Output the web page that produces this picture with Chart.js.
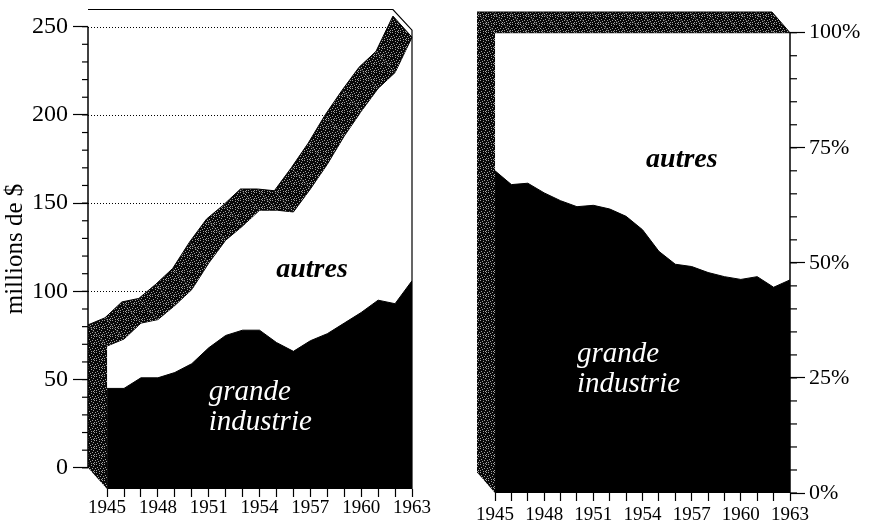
<!DOCTYPE html>
<html lang="fr">
<head>
<meta charset="utf-8">
<script src="https://cdn.jsdelivr.net/npm/chart.js@4.4.1/dist/chart.umd.min.js"></script>
<style>
  html, body { margin: 0; padding: 0; background: #fff; }
  #wrap { position: relative; width: 869px; height: 524px; }
  .panel { position: absolute; top: 0; height: 524px; }
  #left { left: 0; width: 440px; }
  #right { left: 440px; width: 429px; }
</style>
</head>
<body>
<div id="wrap">
  <div class="panel" id="left"><canvas id="chartMontant"></canvas></div>
  <div class="panel" id="right"><canvas id="chartPart"></canvas></div>
</div>
<script>
// donnees
const annees = [1945, 1946, 1947, 1948, 1949, 1950, 1951, 1952, 1953, 1954,
                1955, 1956, 1957, 1958, 1959, 1960, 1961, 1962, 1963];
const grandeIndustrie = [57, 57, 63, 63, 66, 71, 80, 87, 90, 90, 83, 78, 84, 88, 94, 100, 107, 105, 118];
const autres = [24, 28, 31, 33, 38, 42, 48, 54, 59, 68, 75, 79, 86, 96, 106, 114, 120, 131, 138];
const partGrande = [70, 67, 67.3, 65.2, 63.5, 62.2, 62.5, 61.7, 60.1, 57.2, 52.5, 49.7, 49.2, 47.9, 47, 46.4, 47, 44.7, 46.3];
const partAutres = [30, 33, 32.7, 34.8, 36.5, 37.8, 37.5, 38.3, 39.9, 42.8, 47.5, 50.3, 50.8, 52.1, 53, 53.6, 53, 55.3, 53.7];
const anneesEtiquetees = [1945, 1948, 1951, 1954, 1957, 1960, 1963];
const ticksMontant = [0, 50, 100, 150, 200, 250];
const ticksPart = [0, 25, 50, 75, 100];

const SERIF = "'Liberation Serif', 'Times New Roman', serif";

function points(values) {
    return annees.map((a, i) => ({ x: a, y: values[i] }));
}

// trame grise irreguliere
let motif = null;
function getMotif(ctx) {
    if (motif) return motif;
    const c = document.createElement('canvas');
    c.width = 8; c.height = 8;
    const g = c.getContext('2d');
    g.fillStyle = '#080808';
    g.fillRect(0, 0, 8, 8);
    g.fillStyle = '#a0a0a0';
    [[0, 0], [3, 1], [6, 0], [1, 3], [5, 2], [7, 4], [2, 5], [4, 4],
     [0, 6], [6, 6], [3, 7], [5, 7]].forEach(p => g.fillRect(p[0], p[1], 1, 1));
    motif = ctx.createPattern(c, 'repeat');
    return motif;
}

function poly(ctx, pts) {
    ctx.beginPath();
    ctx.moveTo(pts[0][0], pts[0][1]);
    for (let i = 1; i < pts.length; i++) ctx.lineTo(pts[i][0], pts[i][1]);
    ctx.closePath();
}

// effet de relief (bande tramee), axes et textes
const relief = {
    id: 'relief',
    beforeDatasetsDraw(chart, args, o) {
        if (!o.grille) return;
        const ctx = chart.ctx, ca = chart.chartArea;
        const xs = chart.scales.x, ax = chart.scales[o.axe];
        const dx = xs.getPixelForValue(xs.min) - xs.getPixelForValue(annees[0]);
        const xFin = xs.getPixelForValue(annees[annees.length - 1]) + dx;
        ctx.save();
        ctx.strokeStyle = '#000';
        ctx.lineWidth = 1;
        ctx.setLineDash([1, 2]);
        o.grille.forEach(v => {
            const y = Math.round(ax.getPixelForValue(v)) + 0.5;
            ctx.beginPath();
            ctx.moveTo(ca.left, y);
            ctx.lineTo(xFin, y);
            ctx.stroke();
        });
        ctx.restore();
    },
    afterDatasetsDraw(chart, args, o) {
        const ctx = chart.ctx, ca = chart.chartArea;
        const xs = chart.scales.x, ys = chart.scales.y;
        const pts = chart.getDatasetMeta(chart.data.datasets.length - 1).data.map(p => [p.x, p.y]);
        const dx = xs.getPixelForValue(xs.min) - xs.getPixelForValue(annees[0]);
        const dy = ys.getPixelForValue(o.profondeur) - ys.getPixelForValue(0);
        const y0 = ys.getPixelForValue(0);
        const n = pts.length;
        ctx.save();
        ctx.fillStyle = getMotif(ctx);
        for (let i = 0; i < n - 1; i++) {
            const a = pts[i], b = pts[i + 1];
            poly(ctx, [a, b, [b[0] + dx, b[1] + dy], [a[0] + dx, a[1] + dy]]);
            ctx.fill();
        }
        const p0 = pts[0];
        poly(ctx, [p0, [p0[0] + dx, p0[1] + dy], [p0[0] + dx, y0 + dy], [p0[0], y0]]);
        ctx.fill();

        ctx.strokeStyle = '#000';
        ctx.lineWidth = 1;
        ctx.beginPath();
        pts.forEach((p, i) => i ? ctx.lineTo(p[0] + dx, p[1] + dy) : ctx.moveTo(p[0] + dx, p[1] + dy));
        ctx.stroke();
        const pn = pts[n - 1];
        ctx.beginPath();
        ctx.moveTo(pn[0] + dx, pn[1] + dy);
        ctx.lineTo(pn[0], pn[1]);
        ctx.stroke();

        // cadre du fond
        if (o.cadre) {
            ctx.lineWidth = 1.2;
            ctx.beginPath();
            ctx.moveTo(ca.left, ca.top + 0.5);
            ctx.lineTo(pn[0] + dx, ca.top + 0.5);
            ctx.lineTo(pn[0], ca.top - dy);
            ctx.lineTo(pn[0], y0);
            ctx.stroke();
        }

        // axe vertical et petites graduations
        const ax = chart.scales[o.axe];
        const xAxe = o.droite ? ca.right : ca.left;
        const sens = o.droite ? 1 : -1;
        ctx.lineWidth = 1.5;
        ctx.beginPath();
        ctx.moveTo(xAxe, ax.getPixelForValue(o.max));
        ctx.lineTo(xAxe, ax.getPixelForValue(0));
        ctx.stroke();
        ctx.lineWidth = 1.2;
        for (let v = 0; v <= o.max; v += o.pas) {
            const y = ax.getPixelForValue(v);
            ctx.beginPath();
            ctx.moveTo(xAxe, y);
            ctx.lineTo(xAxe + sens * o.petit, y);
            ctx.stroke();
        }
        ctx.restore();
    },
    afterDraw(chart, args, o) {
        const ctx = chart.ctx;
        const xs = chart.scales.x, ys = chart.scales.y;
        ctx.save();
        (o.textes || []).forEach(t => {
            ctx.font = t.font;
            ctx.fillStyle = t.couleur;
            ctx.textAlign = t.align;
            ctx.textBaseline = 'alphabetic';
            ctx.fillText(t.texte, xs.getPixelForValue(t.x), ys.getPixelForValue(t.y));
        });
        ctx.restore();
    }
};

function sansMarge(s) {
    s.paddingTop = 0; s.paddingBottom = 0;
    s.paddingLeft = 0; s.paddingRight = 0;
}

function axeX(hauteur, pad) {
    return {
        type: 'linear',
        min: 1945 - 1.125,
        max: 1963,
        afterBuildTicks: s => { s.ticks = annees.map(v => ({ value: v })); },
        afterFit: s => { s.height = hauteur; sansMarge(s); },
        ticks: {
            autoSkip: false,
            maxRotation: 0,
            padding: pad,
            color: '#000',
            font: { family: SERIF, size: 19 },
            callback: v => anneesEtiquetees.includes(v) ? String(v) : ''
        },
        grid: { drawOnChartArea: false, drawTicks: true, tickLength: 8, tickColor: '#000', tickWidth: 1.2 },
        border: { display: false }
    };
}

function renderMontant() {
    const ctx = document.getElementById('chartMontant').getContext('2d');
    new Chart(ctx, {
        type: 'line',
        data: {
            datasets: [{
                label: 'grande industrie',
                data: points(grandeIndustrie),
                fill: 'origin',
                backgroundColor: '#000',
                borderColor: '#000',
                borderWidth: 1,
                pointRadius: 0
            }, {
                label: 'autres',
                data: points(autres),
                fill: '-1',
                backgroundColor: '#fff',
                borderColor: '#000',
                borderWidth: 1,
                pointRadius: 0
            }]
        },
        options: {
            responsive: true,
            maintainAspectRatio: false,
            animation: false,
            layout: { padding: { top: 9, right: 28, left: 0, bottom: 0 } },
            plugins: {
                legend: { display: false },
                tooltip: { enabled: false },
                relief: {
                    profondeur: 12,
                    axe: 'y2',
                    max: 250,
                    pas: 10,
                    petit: 6,
                    cadre: true,
                    grille: [100, 150, 200, 250],
                    textes: [
                        { texte: 'autres', x: 1957.1, y: 120, align: 'center', couleur: '#000', font: 'bold italic 28px ' + SERIF },
                        { texte: 'grande', x: 1951, y: 50.4, align: 'left', couleur: '#fff', font: 'italic 29px ' + SERIF },
                        { texte: 'industrie', x: 1951, y: 33.4, align: 'left', couleur: '#fff', font: 'italic 29px ' + SERIF }
                    ]
                }
            },
            scales: {
                x: axeX(35, 0),
                y: { display: false, stacked: true, min: 0, max: 272 },
                y2: {
                    position: 'left',
                    min: -12,
                    max: 260,
                    afterBuildTicks: s => { s.ticks = ticksMontant.map(v => ({ value: v })); },
                    afterFit: s => { s.width = 88; sansMarge(s); },
                    ticks: { color: '#000', padding: 5, font: { family: SERIF, size: 24 } },
                    grid: { drawOnChartArea: false, tickLength: 15, tickColor: '#000', tickWidth: 1.2 },
                    border: { display: false },
                    title: { display: true, text: 'millions de $', color: '#000', padding: { top: 0, bottom: 0 }, font: { family: SERIF, size: 25 } }
                }
            }
        },
        plugins: [relief]
    });
}

function renderPart() {
    const ctx = document.getElementById('chartPart').getContext('2d');
    new Chart(ctx, {
        type: 'line',
        data: {
            datasets: [{
                label: 'grande industrie',
                data: points(partGrande),
                fill: 'origin',
                backgroundColor: '#000',
                borderColor: '#000',
                borderWidth: 1,
                pointRadius: 0
            }, {
                label: 'autres',
                data: points(partAutres),
                fill: '-1',
                backgroundColor: '#fff',
                borderColor: '#000',
                borderWidth: 1,
                pointRadius: 0
            }]
        },
        options: {
            responsive: true,
            maintainAspectRatio: false,
            animation: false,
            layout: { padding: { top: 12, right: 0, left: 37, bottom: 0 } },
            plugins: {
                legend: { display: false },
                tooltip: { enabled: false },
                relief: {
                    profondeur: 4.5,
                    axe: 'y',
                    max: 100,
                    pas: 5,
                    petit: 7,
                    droite: true,
                    textes: [
                        { texte: 'autres', x: 1956.4, y: 70.8, align: 'center', couleur: '#000', font: 'bold italic 28px ' + SERIF },
                        { texte: 'grande', x: 1950, y: 28.5, align: 'left', couleur: '#fff', font: 'italic 29px ' + SERIF },
                        { texte: 'industrie', x: 1950, y: 21.9, align: 'left', couleur: '#fff', font: 'italic 29px ' + SERIF }
                    ]
                }
            },
            scales: {
                x: Object.assign(axeX(31, 3), { min: 1945 - 1.1 }),
                y: {
                    position: 'right',
                    stacked: true,
                    min: 0,
                    max: 104.5,
                    afterBuildTicks: s => { s.ticks = ticksPart.map(v => ({ value: v })); },
                    afterFit: s => { s.width = 79; sansMarge(s); },
                    ticks: { color: '#000', padding: 4, font: { family: SERIF, size: 22 }, callback: v => v + '%' },
                    grid: { drawOnChartArea: false, tickLength: 15, tickColor: '#000', tickWidth: 1.2 },
                    border: { display: false }
                }
            }
        },
        plugins: [relief]
    });
}

renderMontant();
renderPart();
</script>
</body>
</html>
